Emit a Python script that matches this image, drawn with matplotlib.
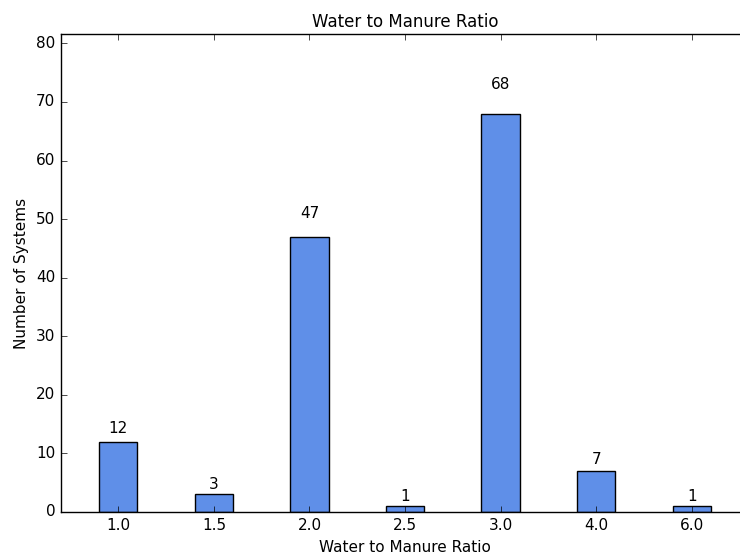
import numpy as np
import matplotlib.pyplot as plt

plt.style.use('classic')
plt.rcParams['font.family'] = 'DejaVu Sans'

ratios = ['1.0', '1.5', '2.0', '2.5', '3.0', '4.0', '6.0']
counts = [12, 3, 47, 1, 68, 7, 1]

fig = plt.figure(figsize=(7.4, 5.57), dpi=100, facecolor='white')
# the right edge of the axes falls just outside the figure, as in the original crop
ax = fig.add_axes([61 / 740, 45 / 557, 688 / 740, 478 / 557])

x = np.arange(len(ratios))
bars = ax.bar(x, counts, width=0.4, align='center',
              color='#5f8fe8', edgecolor='black', linewidth=1)

# value labels over bars
for rect, val in zip(bars, counts):
    ax.text(rect.get_x() + rect.get_width() / 2, val * 1.05 + 0.3, str(val),
            ha='center', va='bottom', fontsize=11)

ax.set_xlim(-0.6, 6.6)
ax.set_ylim(0, max(counts) * 1.2)
ax.set_xticks(x)
ax.set_xticklabels(ratios)
ax.tick_params(labelsize=11)
ax.set_title('Water to Manure Ratio', fontsize=12)
ax.set_xlabel('Water to Manure Ratio', fontsize=11)
ax.set_ylabel('Number of Systems', fontsize=11)

plt.savefig('out.png', dpi=100, facecolor='white')
